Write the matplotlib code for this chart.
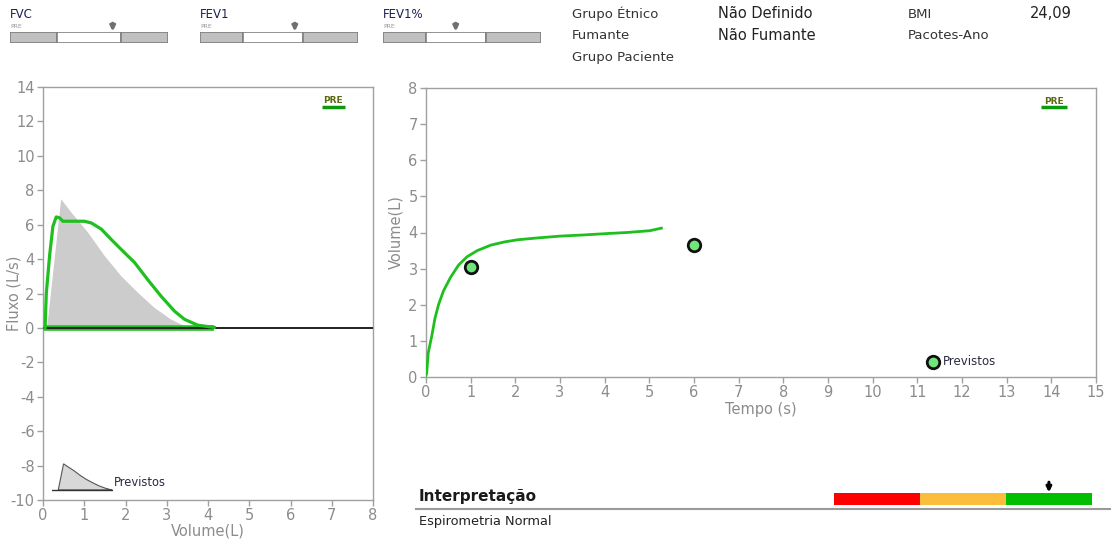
import matplotlib.pyplot as plt
from matplotlib.lines import Line2D

plt.rcParams["axes.unicode_minus"] = False

W, H = 1111, 540

# curva fluxo-volume (expiração)
vol = [0.05, 0.08, 0.16, 0.24, 0.32, 0.40, 0.48, 0.70, 1.00, 1.17, 1.41, 1.65,
       1.90, 2.22, 2.54, 2.86, 3.19, 3.43, 3.75, 4.15]
flow = [0.0, 2.0, 4.2, 5.9, 6.45, 6.4, 6.2, 6.2, 6.2, 6.1, 5.75, 5.15,
        4.55, 3.8, 2.8, 1.85, 0.97, 0.5, 0.16, 0.03]
# retorno (inspiração) sobre o eixo zero
insp_vol = [4.15, 0.0]
insp_flow = [0.0, 0.0]

# previstos fluxo-volume
pred_vol = [0.10, 0.44, 0.69, 1.09, 1.49, 1.90, 2.30, 2.70, 3.10, 3.43, 3.55]
pred_flow = [0.0, 7.48, 6.7, 5.55, 4.2, 3.0, 2.05, 1.17, 0.5, 0.1, 0.0]

# curva volume-tempo
tempo = [0.0, 0.015, 0.05, 0.13, 0.2, 0.28, 0.39, 0.55, 0.73, 0.92, 1.15, 1.45,
         1.76, 2.06, 2.5, 3.0, 3.5, 4.04, 4.5, 5.01, 5.27]
volume = [0.05, 0.1, 0.67, 1.14, 1.62, 2.0, 2.38, 2.76, 3.1, 3.33, 3.5, 3.65,
          3.74, 3.8, 3.85, 3.9, 3.93, 3.97, 4.0, 4.05, 4.12]
pred_t = [1, 6]
pred_v = [3.05, 3.65]

# indicadores do topo: (nome, limite1, limite2, seta) em fração da barra
indicadores = [("FVC", 0.30, 0.70, 0.65),
               ("FEV1", 0.27, 0.65, 0.60),
               ("FEV1%", 0.27, 0.65, 0.46)]
ind_x = [10, 200, 383]

info_rotulos = ["Grupo Étnico", "Fumante", "Grupo Paciente"]
info_valores = ["Não Definido", "Não Fumante"]
info2_rotulos = ["BMI", "Pacotes-Ano"]
info2_valores = ["24,09"]

interp_cores = ["#ff0000", "#fbbd3b", "#00bf00"]
interp_seta = 0.833

VERDE = "#1fbf1f"
CINZA_TXT = "#8c8c8c"
CINZA_EIXO = "#a0a0a0"


def px(x, y):
    return x / W, 1 - y / H


def box(x0, y0, x1, y1):
    return [x0 / W, 1 - y1 / H, (x1 - x0) / W, (y1 - y0) / H]


fig = plt.figure(figsize=(W / 100, H / 100), dpi=100)
fig.patch.set_facecolor("white")


def estilo(ax):
    for s in ax.spines.values():
        s.set_color(CINZA_EIXO)
        s.set_linewidth(1)
    ax.tick_params(colors=CINZA_EIXO, labelcolor=CINZA_TXT, labelsize=10.5,
                   length=4, width=1, pad=2)


# ---- fluxo x volume ----
ax1 = fig.add_axes(box(43, 87, 373, 500))
estilo(ax1)
ax1.fill(pred_vol, pred_flow, color="#cccccc", lw=0, zorder=1)
ax1.plot(insp_vol, insp_flow, color=VERDE, lw=4, zorder=2,
         solid_capstyle="butt")
ax1.axhline(0, color="#222222", lw=1.4, zorder=3)
ax1.plot(vol, flow, color=VERDE, lw=2.3, zorder=4, solid_joinstyle="round")
ax1.set_xlim(0, 8)
ax1.set_ylim(-10, 14)
ax1.set_xticks(range(0, 9))
ax1.set_yticks(range(-10, 15, 2))
ax1.set_xlabel("Volume(L)", color=CINZA_TXT, fontsize=10.5)
ax1.set_ylabel("Fluxo (L/s)", color=CINZA_TXT, fontsize=10.5)
ax1.xaxis.set_label_coords(0.5, -0.057)
ax1.yaxis.set_label_coords(-0.066, 0.5)

ax1.text(0.88, 0.967, "PRE", transform=ax1.transAxes, ha="center", va="center",
         fontsize=6.5, fontweight="bold", color="#5a6a10")
ax1.plot([0.845, 0.915], [0.951, 0.951], transform=ax1.transAxes,
         color="#0a9a0a", lw=2.5, solid_capstyle="butt")

# miniatura da legenda "Previstos"
axl = fig.add_axes(box(52, 462, 113, 492))
axl.set_facecolor("#f2f2f2")
axl.fill(pred_vol, pred_flow, facecolor="#d8d8d8", edgecolor="#555555", lw=0.8)
axl.plot([-0.3, 3.6], [0, 0], color="#333333", lw=1)
axl.set_xlim(-0.3, 3.6)
axl.set_ylim(-0.6, 8.0)
axl.set_axis_off()
axl.patch.set_visible(True)
fig.text(*px(114, 483), "Previstos", fontsize=8.3, color="#2a2a40",
         ha="left", va="center")

# ---- volume x tempo ----
ax2 = fig.add_axes(box(426, 88, 1096, 377))
estilo(ax2)
ax2.plot(tempo, volume, color=VERDE, lw=2.0, zorder=3)
ax2.plot(pred_t, pred_v, ls="none", marker="o", ms=9, mfc="#6ee67a",
         mec="#111111", mew=2, zorder=4)
ax2.set_xlim(0, 15)
ax2.set_ylim(0, 8)
ax2.set_xticks(range(0, 16))
ax2.set_yticks(range(0, 9))
ax2.set_xlabel("Tempo (s)", color=CINZA_TXT, fontsize=10.5)
ax2.set_ylabel("Volume(L)", color=CINZA_TXT, fontsize=10.5)
ax2.xaxis.set_label_coords(0.5, -0.088)
ax2.yaxis.set_label_coords(-0.033, 0.5)

ax2.text(0.937, 0.955, "PRE", transform=ax2.transAxes, ha="center", va="center",
         fontsize=6.5, fontweight="bold", color="#5a6a10")
ax2.plot([0.918, 0.956], [0.934, 0.934], transform=ax2.transAxes,
         color="#0a9a0a", lw=2.5, solid_capstyle="butt")

ax2.plot([0.757], [0.053], transform=ax2.transAxes, ls="none", marker="o",
         ms=9, mfc="#6ee67a", mec="#111111", mew=2, clip_on=False)
ax2.text(0.771, 0.053, "Previstos", transform=ax2.transAxes, fontsize=8.5,
         color="#2a2a40", ha="left", va="center")

# ---- indicadores do topo ----
for (nome, a, b, seta), x0 in zip(indicadores, ind_x):
    fig.text(*px(x0, 14), nome, fontsize=8.5, color="#1a2050", ha="left",
             va="center")
    fig.text(*px(x0, 27), "PRE", fontsize=4.5, color="#999999", ha="left",
             va="center")
    axb = fig.add_axes(box(x0, 32, x0 + 158, 43))
    axb.set_xlim(0, 1)
    axb.set_ylim(0, 1)
    axb.set_axis_off()
    axb.barh(0.5, a, left=0, height=1, color="#c0c0c0", edgecolor="#808080",
             lw=1.2)
    axb.barh(0.5, b - a, left=a, height=1, color="white", edgecolor="#808080",
             lw=1.2)
    axb.barh(0.5, 1 - b, left=b, height=1, color="#c0c0c0", edgecolor="#808080",
             lw=1.2)
    axb.annotate("", xy=(seta, 1.05), xytext=(seta, 1.8),
                 arrowprops=dict(arrowstyle="-|>", color="#707070", lw=2.2,
                                 mutation_scale=7, shrinkA=0, shrinkB=0),
                 annotation_clip=False)

# ---- dados do paciente ----
for i, r in enumerate(info_rotulos):
    fig.text(*px(572, 14 + 21.5 * i), r, fontsize=9.5, color="#333333",
             ha="left", va="center")
for i, v in enumerate(info_valores):
    fig.text(*px(718, 14 + 21.5 * i), v, fontsize=10.5, color="#222222",
             ha="left", va="center")
for i, r in enumerate(info2_rotulos):
    fig.text(*px(908, 14 + 21.5 * i), r, fontsize=9.5, color="#333333",
             ha="left", va="center")
for i, v in enumerate(info2_valores):
    fig.text(*px(1030, 14 + 21.5 * i), v, fontsize=10.5, color="#222222",
             ha="left", va="center")

# ---- interpretação ----
fig.text(*px(419, 497), "Interpretação", fontsize=11, fontweight="bold",
         color="#1a1a1a", ha="left", va="center")
fig.add_artist(Line2D([416 / W, 1.0], [1 - 509 / H, 1 - 509 / H],
                      color="#9a9a9a", lw=1.5))
fig.text(*px(419, 522), "Espirometria Normal", fontsize=9.3, color="#222222",
         ha="left", va="center")

axi = fig.add_axes(box(834, 493, 1092, 505))
axi.set_xlim(0, len(interp_cores))
axi.set_ylim(0, 1)
axi.set_axis_off()
for i, c in enumerate(interp_cores):
    axi.barh(0.5, 1, left=i, height=1, color=c, lw=0)
axi.annotate("", xy=(interp_seta * len(interp_cores), 1.05),
             xytext=(interp_seta * len(interp_cores), 1.9),
             arrowprops=dict(arrowstyle="-|>", color="black", lw=2.2,
                             mutation_scale=7, shrinkA=0, shrinkB=0),
             annotation_clip=False)

fig.savefig("out.png", dpi=100, facecolor="white")
